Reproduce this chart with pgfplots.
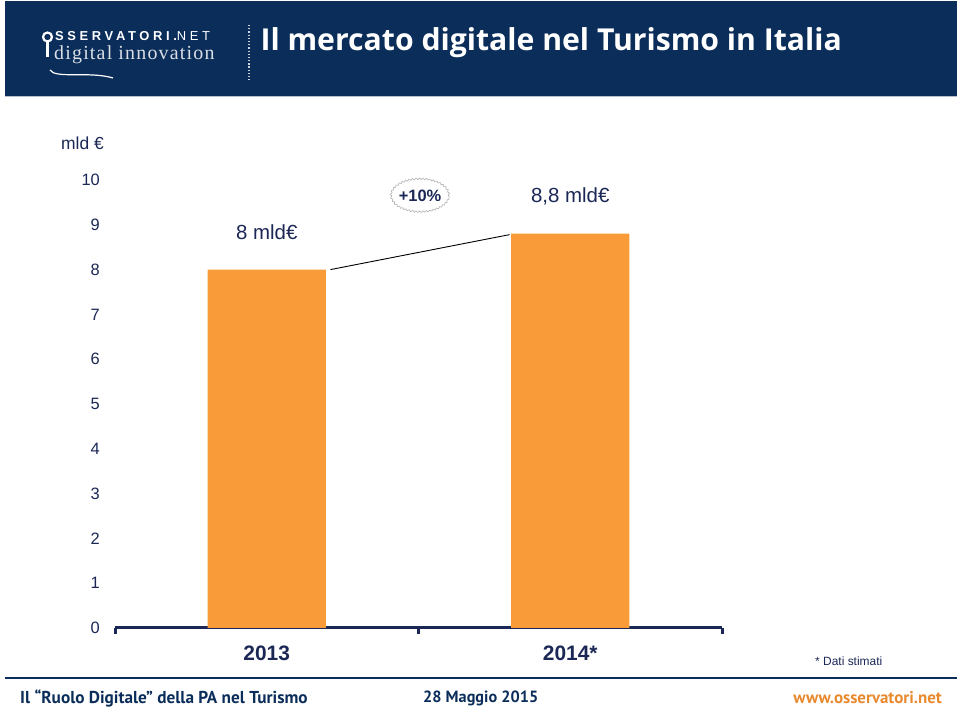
\documentclass[border=0pt]{standalone}
\usepackage{pgfplots}
\pgfplotsset{compat=1.18}
\usetikzlibrary{decorations.pathmorphing}
\usepackage{fontspec}
\setmainfont{Liberation Sans}
\newfontfamily\titlefont{Open Sans}
\newfontfamily\footfont{PT Sans}
\newfontfamily\logoserif[LetterSpace=6]{Liberation Serif}
\newfontfamily\logosans[LetterSpace=28]{Liberation Sans}

\definecolor{navy}{HTML}{0B2D5A}
\definecolor{txt}{HTML}{1B2755}
\definecolor{barorange}{HTML}{F99B38}
\definecolor{weborange}{HTML}{E8892E}

\begin{document}
\begin{tikzpicture}[x=1bp,y=1bp]
\useasboundingbox (0,0) rectangle (960,711);

% header band
\fill[navy] (5,614) rectangle (957,710);
\draw[white!70!navy, line width=1bp] (5,614) -- (957,614);
\node[anchor=west, text=white, font=\titlefont\bfseries\fontsize{30.3}{33}\selectfont] at (257,668)
  {Il mercato digitale nel Turismo in Italia};
% logo
\draw[white, line width=2.2bp] (47.5,674) circle (4.5);
\draw[white, line width=2.5bp] (47.5,669) -- (47.5,654);
\node[anchor=west, text=white, inner sep=0pt, font=\logosans\bfseries\fontsize{13}{15}\selectfont] at (55,675)
  {SSERVATORI.\mdseries NET};
\node[anchor=west, text=white!85!navy, inner sep=0pt, font=\logoserif\fontsize{20}{22}\selectfont] at (54,656)
  {digital innovation};
\draw[white, line width=1.2bp] (50,641) .. controls (55,632) and (90,640) .. (113,633);
\draw[white!80!navy, line width=1.2bp, dotted] (249,686) -- (249,631);

\begin{axis}[
  at={(115bp,83bp)}, anchor=south west,
  scale only axis, width=607bp, height=448bp,
  xmin=-0.5, xmax=1.5, ymin=0, ymax=10,
  clip=false,
  axis x line*=bottom, axis y line*=left,
  x axis line style={line width=3bp, draw=txt, -},
  y axis line style={draw=none},
  xtick={0,1}, xticklabels={2013,2014*},
  minor xtick={-0.5,0.5,1.5},
  major tick length=0pt,
  minor tick length=6bp,
  tick align=outside,
  minor tick style={line width=3bp, draw=txt},
  ytick={0,1,...,10},
  /pgf/number format/assume math mode=true,
  yticklabel style={font=\fontsize{16.5}{18}\selectfont, text=txt, anchor=east, inner sep=0pt, xshift=-15bp},
  xticklabel style={font=\bfseries\fontsize{21}{24}\selectfont, text=txt, anchor=center, yshift=-25bp},
  nodes near coords,
  point meta=explicit symbolic,
  nodes near coords style={font=\fontsize{20.5}{23}\selectfont, text=txt, anchor=center, yshift=37bp},
]
\addplot[ybar, bar width=0.39, fill=barorange, draw=none] coordinates {
  (0,8) [8 mld€]
  (1,8.8) [8,8 mld€]
};
\draw[black, line width=0.9bp] (axis cs:0.21,8) -- (axis cs:0.80,8.78);
\draw[gray!60, line width=0.6bp, decorate, decoration={snake, segment length=3.5bp, amplitude=0.8bp}]
  (axis cs:0.505,9.64) ellipse (29bp and 16.5bp);
\node[font=\bfseries\fontsize{16.5}{18}\selectfont, text=txt] at (axis cs:0.505,9.64) {+10\%};
\end{axis}

\node[anchor=east, text=txt, inner sep=0pt, font=\fontsize{17.5}{20}\selectfont] at (104,568) {mld €};
\node[anchor=west, text=txt, inner sep=0pt, font=\fontsize{12}{14}\selectfont] at (815,50) {* Dati stimati};

% footer
\draw[navy, line width=2.5bp] (5,33) -- (957,33);
\node[anchor=west, text=navy, inner sep=0pt, font=\footfont\bfseries\fontsize{17.3}{19}\selectfont] at (20,13) {Il “Ruolo Digitale” della PA nel Turismo};
\node[anchor=west, text=navy, inner sep=0pt, font=\footfont\bfseries\fontsize{16.3}{19}\selectfont] at (423,13) {28 Maggio 2015};
\node[anchor=east, text=weborange, inner sep=0pt, font=\footfont\bfseries\fontsize{17}{19}\selectfont] at (942,13) {www.osservatori.net};
\end{tikzpicture}
\end{document}
